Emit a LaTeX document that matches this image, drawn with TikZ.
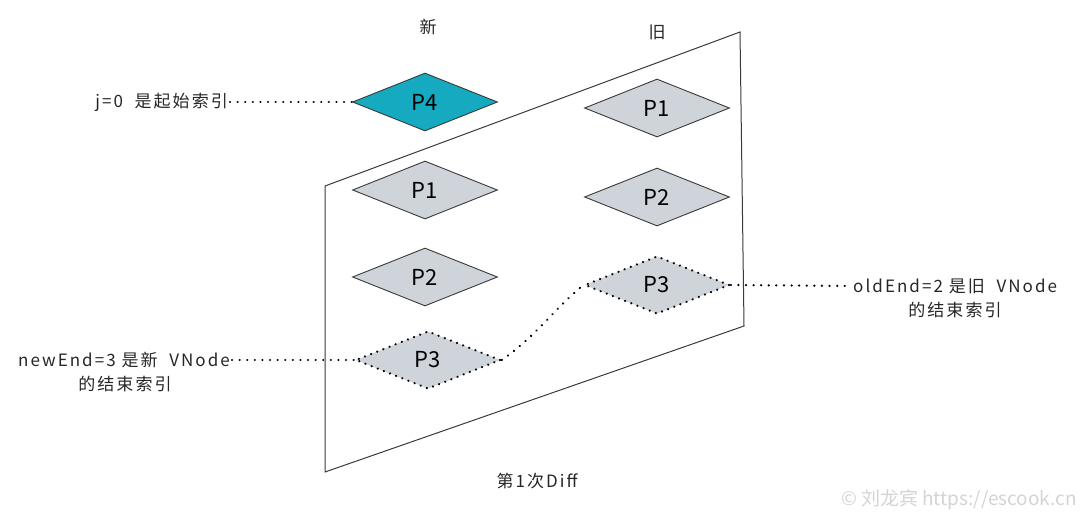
\documentclass[tikz,border=0pt]{standalone}
\usepackage{fontspec}
\setmainfont{Noto Sans CJK SC}
\usetikzlibrary{shapes.geometric}
\definecolor{strokec}{HTML}{3A3A3A}
\definecolor{tealfill}{HTML}{15AABF}
\definecolor{grayfill}{HTML}{CED4DA}
\definecolor{wmark}{HTML}{D4D4D4}
\tikzset{
  pbox/.style={diamond, aspect=2.5, inner sep=0pt, minimum width=145pt, minimum height=58pt,
    draw=strokec, line width=0.9pt, fill=grayfill, font=\fontsize{22}{25}\selectfont},
  pnew/.style={pbox, fill=tealfill},
  pdot/.style={pbox, draw=black, line width=2.4pt, dash pattern=on 0.1pt off 6.5pt, line cap=round},
  dotline/.style={draw=black, line width=2.4pt, dash pattern=on 0.1pt off 7.5pt, line cap=round},
  lbl/.style={inner sep=2pt, font=\fontsize{17}{20}\selectfont\addfontfeature{LetterSpace=12}, text=black!85},
  frame/.style={draw=strokec, line width=1pt}
}
\begin{document}
\begin{tikzpicture}[x=1pt,y=-1pt]
\useasboundingbox (0,0) rectangle (1083,522);
% plane
\draw[frame] (325,186) -- (740,32) -- (744,326) -- (325,472) -- cycle;
% headings
\node[lbl] (hnew) at (428,27) {新};
\node[lbl] (hold) at (657,32) {旧};
% new column
\node[pnew] (p4) at (425,102) {P4};
\node[pbox] (np1) at (425,190) {P1};
\node[pbox] (np2) at (425,277) {P2};
\node[pdot] (np3) at (428,360) {P3};
% old column
\node[pbox] (op1) at (657,108) {P1};
\node[pbox] (op2) at (657,197) {P2};
\node[pdot] (op3) at (657,285) {P3};
% labels
\node[lbl, anchor=east] (jlbl) at (230,102) {j=0\ \ 是起始索引};
\node[lbl, anchor=east] (nlbl) at (232,360) {newEnd=3 是新\ \ VNode};
\node[lbl] (nlbl2) at (125,384) {的结束索引};
\node[lbl, anchor=west] (olbl) at (851,286) {oldEnd=2 是旧\ \ VNode};
\node[lbl] (olbl2) at (955,310) {的结束索引};
\node[lbl] (diff) at (537,481) {第1次Diff};
\node[inner sep=0pt, anchor=east, text=wmark, font=\fontsize{19}{22}\selectfont] (wm) at (1077,500) {© 刘龙宾 https://escook.cn};
% connectors
\draw[dotline] (jlbl.east) -- (p4.west);
\draw[dotline] (nlbl.east) -- (np3.west);
\draw[dotline] (op3.east) -- (olbl.west);
\draw[dotline] (np3.east) to[out=35,in=-140] (op3.west);
\end{tikzpicture}
\end{document}
